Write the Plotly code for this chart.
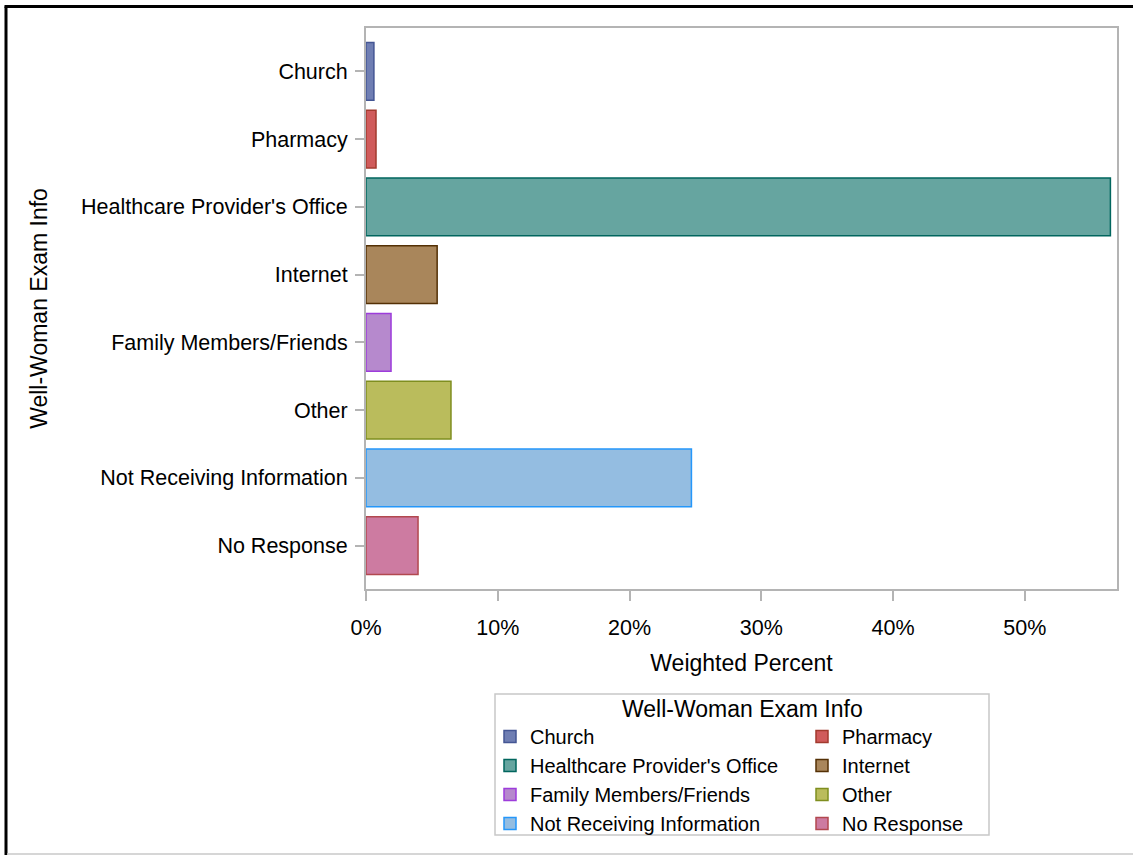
import plotly.graph_objects as go

categories = [
    "Church",
    "Pharmacy",
    "Healthcare Provider's Office",
    "Internet",
    "Family Members/Friends",
    "Other",
    "Not Receiving Information",
    "No Response",
]
weighted_percent = [0.6, 0.76, 56.5, 5.4, 1.9, 6.45, 24.7, 3.95]
fill_colors = ["#6F7EB3", "#D05B5B", "#66A5A0", "#A9865B", "#B689CD", "#BABC5C", "#94BDE1", "#CD7BA1"]
line_colors = ["#445694", "#A23A2E", "#01665E", "#543005", "#9D3CDB", "#7F8E1F", "#2597FA", "#B2484F"]
x_ticks = [0, 10, 20, 30, 40, 50]

FONT = "Liberation Sans, Arial, sans-serif"

W, H = 1133, 855
L, R, T, B = 366, 16, 28, 266
pw, ph = W - L - R, H - T - B


def px_x(p):
    return (p - L) / pw


def px_y(p):
    return (H - B - p) / ph


fig = go.Figure()
for i, (cat, val, fc, lc) in enumerate(zip(categories, weighted_percent, fill_colors, line_colors)):
    fig.add_trace(go.Bar(
        y=[cat], x=[val], orientation="h", name=cat, width=0.85,
        marker=dict(color=fc, line=dict(color=lc, width=1.5)),
        legend="legend" if i % 2 == 0 else "legend2",
    ))

# outer frame lines (paper coordinates)
fig.add_shape(type="line", xref="paper", yref="paper", x0=px_x(6), x1=px_x(6), y0=px_y(6.5), y1=px_y(H + 5),
              line=dict(color="black", width=3))
fig.add_shape(type="line", xref="paper", yref="paper", x0=px_x(4.5), x1=px_x(W + 5), y0=px_y(6.5), y1=px_y(6.5),
              line=dict(color="black", width=3))
fig.add_shape(type="line", xref="paper", yref="paper", x0=px_x(7), x1=px_x(W + 5), y0=px_y(854), y1=px_y(854),
              line=dict(color="#c8c8c8", width=1.5))
# legend frame
fig.add_shape(type="rect", xref="paper", yref="paper", x0=px_x(495), x1=px_x(989), y0=px_y(694), y1=px_y(835),
              line=dict(color="#c8c8c8", width=1.5), fillcolor="white", layer="below")

fig.add_annotation(text="Well-Woman Exam Info", xref="paper", yref="paper", x=px_x(742), y=px_y(709),
                   xanchor="center", yanchor="middle", showarrow=False,
                   font=dict(family=FONT, size=23, color="black"))

leg_common = dict(
    orientation="v", xanchor="left", yanchor="top",
    bgcolor="rgba(0,0,0,0)", borderwidth=0,
    font=dict(family=FONT, size=20, color="black"),
    traceorder="normal", itemclick=False, itemdoubleclick=False,
)

fig.update_layout(
    template="none",
    width=W, height=H,
    margin=dict(l=L, r=R, t=T, b=B, autoexpand=False),
    paper_bgcolor="white", plot_bgcolor="white",
    barmode="overlay",
    font=dict(family=FONT, size=21, color="black"),
    showlegend=True,
    legend=dict(x=px_x(490), y=px_y(717), **leg_common),
    legend2=dict(x=px_x(802), y=px_y(717), **leg_common),
)

fig.update_xaxes(
    range=[0, 57], tickvals=x_ticks, ticktext=[f"{v}%" for v in x_ticks],
    showgrid=False, zeroline=False,
    showline=True, linecolor="#b4b4b4", linewidth=2, mirror=True,
    ticks="outside", ticklen=10, tickwidth=2, tickcolor="#b4b4b4",
    ticklabelstandoff=8,
    tickfont=dict(family=FONT, size=21.5, color="black"),
    title=dict(text="Weighted Percent", font=dict(family=FONT, size=23), standoff=16),
    automargin=True,
)
fig.update_yaxes(
    type="category", categoryorder="array", categoryarray=categories,
    range=[len(categories) - 1 + 0.64, -0.64],
    showgrid=False, zeroline=False,
    showline=True, linecolor="#b4b4b4", linewidth=2, mirror=True,
    ticks="outside", ticklen=9, tickwidth=2, tickcolor="#b4b4b4",
    ticklabelstandoff=3,
    tickfont=dict(family=FONT, size=21.5, color="black"),
    title=dict(text="Well-Woman Exam Info", font=dict(family=FONT, size=23), standoff=27),
    automargin=True,
)

fig.write_html(
    "out.html",
    config={"displayModeBar": False},
    post_script="document.body.style.margin='0';document.body.style.overflow='hidden';",
)
